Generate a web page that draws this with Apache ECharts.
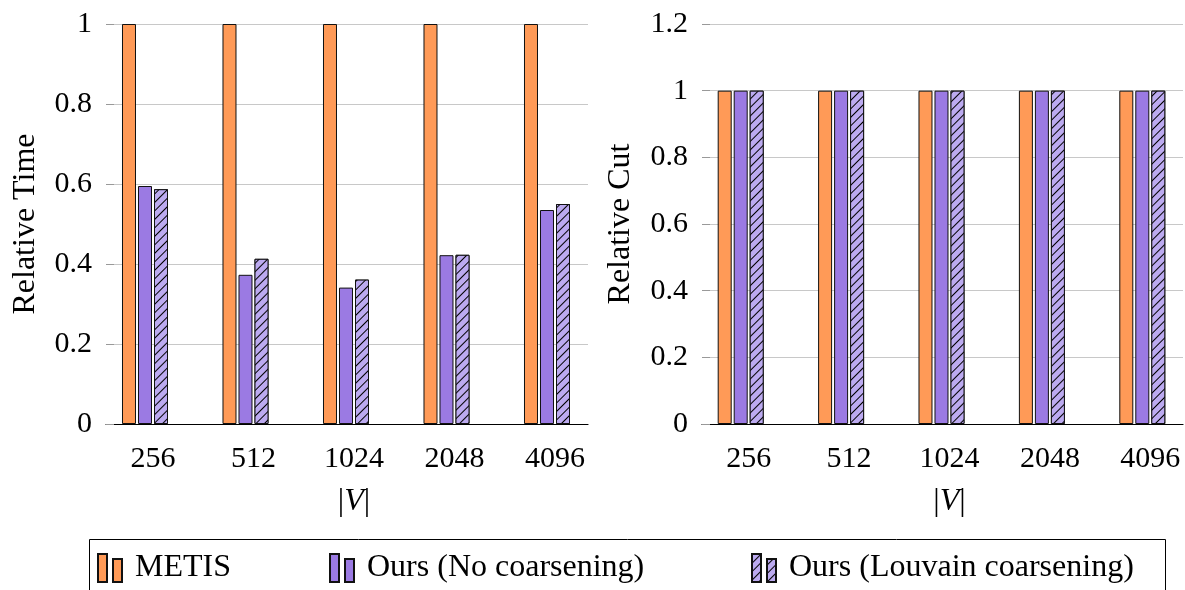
<!DOCTYPE html>
<html>
<head>
<meta charset="utf-8">
<script src="https://cdn.jsdelivr.net/npm/echarts@6/dist/echarts.min.js"></script>
<style>html,body{margin:0;padding:0;background:#fff}#c{width:1185px;height:590px}</style>
</head>
<body>
<div id="c"></div>
<script>
const categories = ['256', '512', '1024', '2048', '4096'];
const timeMetis = [1, 1, 1, 1, 1];
const timeNoCoarse = [0.595, 0.373, 0.341, 0.422, 0.535];
const timeLouvain = [0.587, 0.413, 0.361, 0.423, 0.55];
const cutMetis = [1, 1, 1, 1, 1];
const cutNoCoarse = [1, 1, 1, 1, 1];
const cutLouvain = [1, 1, 1, 1, 1];
const seriesNames = ['METIS', 'Ours (No coarsening)', 'Ours (Louvain coarsening)'];

const FONT = '"Liberation Serif", "DejaVu Serif", serif';
const FS = 30;
const FS_TXT = 32;
const ORANGE = '#ff9a57';
const PURPLE = '#9b7ae3';
const LILAC = '#bcaaf0';

const hatch = {
  symbol: 'rect', symbolSize: 1,
  dashArrayX: [1, 0], dashArrayY: [1, 4.5],
  rotation: -Math.PI / 4,
  color: '#000', backgroundColor: LILAC
};

const styles = [
  { color: ORANGE, borderColor: '#111', borderWidth: 1 },
  { color: PURPLE, borderColor: '#111', borderWidth: 1 },
  { color: LILAC, borderColor: '#111', borderWidth: 1, decal: hatch }
];

const TOP = 24, BOTTOM = 590 - 424;
// grids 0/2: frame (y axis, grid lines, base line); grids 1/3: bars, spanning first to last tick
const grids = [
  { left: 106, right: 1185 - 588, top: TOP, bottom: BOTTOM },
  { left: 153, width: 402, top: TOP, bottom: BOTTOM },
  { left: 702, right: 2, top: TOP, bottom: BOTTOM },
  { left: 748.7, width: 401.6, top: TOP, bottom: BOTTOM }
];

function bgY(gi, max, name, gap) {
  return {
    type: 'value', gridIndex: gi, min: 0, max: max, interval: 0.2,
    name: name, nameLocation: 'middle', nameGap: gap,
    nameTextStyle: { fontFamily: FONT, fontSize: FS_TXT, color: '#000' },
    axisLine: { show: false },
    axisTick: { show: true, inside: true, length: 8, lineStyle: { color: '#999' } },
    axisLabel: { fontFamily: FONT, fontSize: FS, color: '#000', margin: 14 },
    splitLine: { show: true, lineStyle: { color: '#c8c8c8', width: 1 } }
  };
}
function barY(gi, max) {
  return { type: 'value', gridIndex: gi, min: 0, max: max, show: false };
}
function bgX(gi) {
  return {
    type: 'value', gridIndex: gi, min: 0, max: 1,
    axisLine: { show: true, onZero: false, lineStyle: { color: '#000', width: 1.2 } },
    axisTick: { show: false }, axisLabel: { show: false }, splitLine: { show: false }
  };
}
function barX(gi) {
  return {
    type: 'category', gridIndex: gi, data: categories, boundaryGap: false,
    axisLine: { show: false }, axisTick: { show: false },
    axisLabel: { fontFamily: FONT, fontSize: FS, color: '#000', margin: 20, interval: 0 },
    name: '|{i|V}|', nameLocation: 'middle', nameGap: 62,
    nameTextStyle: { fontFamily: FONT, fontSize: FS_TXT, color: '#000',
      rich: { i: { fontFamily: FONT, fontSize: FS_TXT, fontStyle: 'italic', color: '#000' } } }
  };
}

function barSeries(axisIdx, datasets) {
  const out = datasets.map((d, i) => ({
    type: 'bar', name: seriesNames[i], xAxisIndex: axisIdx, yAxisIndex: axisIdx,
    data: d, barWidth: 14, barGap: '14.3%', itemStyle: styles[i],
    emphasis: { disabled: true }, animation: false
  }));
  // empty fourth slot (as in the original grouped layout)
  out.push({ type: 'bar', name: '_pad' + axisIdx, xAxisIndex: axisIdx, yAxisIndex: axisIdx,
    data: categories.map(() => '-'), barWidth: 14, barGap: '14.3%', animation: false });
  return out;
}

const legendLefts = [92, 324, 746];
const legends = seriesNames.map((n, i) => ({
  data: [n],
  left: legendLefts[i], top: 547,
  itemWidth: 24, itemHeight: 28,
  icon: 'path://M0 0H9V28H0Z M15 5H24V28H15Z',
  textStyle: { fontFamily: FONT, fontSize: FS_TXT, color: '#000', padding: [0, 0, 0, 8] },
  selectedMode: false
}));

const chart = echarts.init(document.getElementById('c'), null, { renderer: 'canvas' });
chart.setOption({
  animation: false,
  backgroundColor: '#fff',
  grid: grids,
  xAxis: [bgX(0), barX(1), bgX(2), barX(3)],
  yAxis: [bgY(0, 1, 'Relative Time', 64), barY(1, 1), bgY(2, 1.2, 'Relative Cut', 65), barY(3, 1.2)],
  legend: legends,
  graphic: [{
    type: 'rect', left: 87, top: 537, silent: true,
    shape: { width: 1076, height: 70 },
    style: { fill: 'none', stroke: '#000', lineWidth: 1 }
  }],
  series: [].concat(
    barSeries(1, [timeMetis, timeNoCoarse, timeLouvain]),
    barSeries(3, [cutMetis, cutNoCoarse, cutLouvain])
  )
});
</script>
</body>
</html>
